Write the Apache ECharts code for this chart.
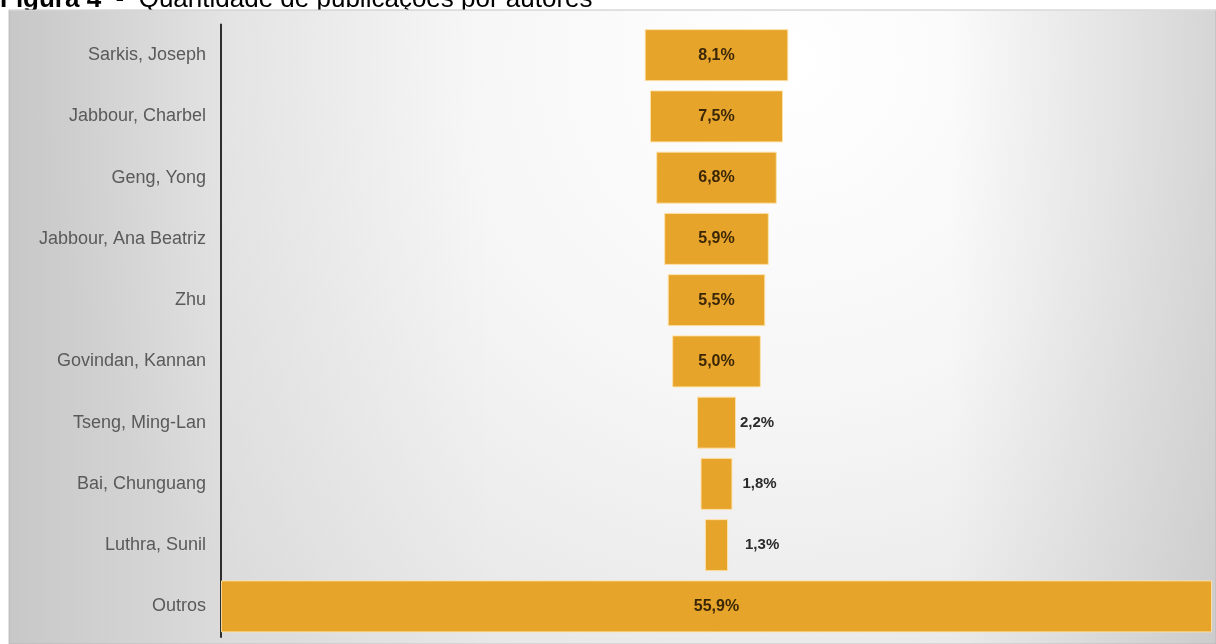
<!DOCTYPE html>
<html>
<head>
<meta charset="utf-8">
<script src="https://cdn.jsdelivr.net/npm/echarts@6/dist/echarts.min.js"></script>
<style>
  html, body { margin: 0; padding: 0; background: #ffffff; }
  #chart { width: 1216px; height: 644px; }
</style>
</head>
<body>
<div id="chart"></div>
<script>
// Authors, top to bottom
var authors = [
  'Sarkis, Joseph',
  'Jabbour, Charbel',
  'Geng, Yong',
  'Jabbour, Ana Beatriz',
  'Zhu',
  'Govindan, Kannan',
  'Tseng, Ming-Lan',
  'Bai, Chunguang',
  'Luthra, Sunil',
  'Outros'
];
// Share of publications (%)
var shares = [8.1, 7.5, 6.8, 5.9, 5.5, 5.0, 2.2, 1.8, 1.3, 55.9];
// Small bars get their label beside the bar instead of inside
var labelOutside = [false, false, false, false, false, false, true, true, true, false];
var labelGap = [0, 0, 0, 0, 0, 0, 4, 10, 17, 0];

var fullWidth = Math.max.apply(null, shares);
// invisible spacer so each bar is centred on the plot
var spacer = shares.map(function (v) { return (fullWidth - v) / 2; });

function pct(v) { return v.toFixed(1).replace('.', ',') + '%'; }

var barData = shares.map(function (v, i) {
  var item = { value: v };
  if (labelOutside[i]) {
    item.label = { position: 'right', distance: labelGap[i], color: '#2b2b2b', fontSize: 15 };
  }
  return item;
});

var chart = echarts.init(document.getElementById('chart'), null, { renderer: 'canvas' });

chart.setOption({
  animation: false,
  backgroundColor: '#ffffff',
  graphic: [
    {
      type: 'text',
      z: -20,
      left: 0,
      top: -13,
      style: {
        text: '{b|Figura 4}{n|  -  Quantidade de publicações por autores}',
        rich: {
          b: { fontFamily: 'Liberation Sans, Arial, sans-serif', fontSize: 26, fontWeight: 'bold', fill: '#000' },
          n: { fontFamily: 'Liberation Sans, Arial, sans-serif', fontSize: 26, fill: '#000' }
        }
      }
    },
    {
      type: 'rect',
      z: -10,
      shape: { x: 9, y: 10, width: 1207, height: 634 },
      style: {
        fill: new echarts.graphic.RadialGradient(790, 60, 760, [
          { offset: 0, color: '#ffffff' },
          { offset: 0.45, color: '#f6f6f6' },
          { offset: 1, color: '#e2e2e2' }
        ], true),
        stroke: '#c4c4c4',
        lineWidth: 1
      }
    },
    {
      type: 'rect',
      z: -9,
      shape: { x: 9, y: 11, width: 1207, height: 633 },
      style: {
        fill: new echarts.graphic.LinearGradient(0, 0, 1, 0, [
          { offset: 0, color: 'rgba(160,160,160,0.4)' },
          { offset: 0.18, color: 'rgba(160,160,160,0.1)' },
          { offset: 0.4, color: 'rgba(160,160,160,0)' },
          { offset: 0.78, color: 'rgba(160,160,160,0)' },
          { offset: 1, color: 'rgba(160,160,160,0.35)' }
        ])
      }
    }
  ],
  grid: { left: 221, right: 4, top: 24.5, bottom: 7, containLabel: false },
  xAxis: {
    type: 'value',
    min: 0,
    max: fullWidth,
    show: false
  },
  yAxis: {
    type: 'category',
    data: authors,
    inverse: true,
    axisLine: { show: true, lineStyle: { color: '#2e2e2e', width: 2 } },
    axisTick: { show: false },
    splitLine: { show: false },
    axisLabel: {
      color: '#5a5a5a',
      fontFamily: 'Liberation Sans, Arial, sans-serif',
      fontSize: 18,
      margin: 15
    }
  },
  series: [
    {
      type: 'bar',
      stack: 'funnel',
      data: spacer,
      barWidth: 52,
      itemStyle: { color: 'rgba(0,0,0,0)' },
      silent: true
    },
    {
      type: 'bar',
      stack: 'funnel',
      data: barData,
      barWidth: 52,
      itemStyle: {
        color: '#e7a42a',
        borderColor: 'rgba(255,226,170,0.9)',
        borderWidth: 1
      },
      label: {
        show: true,
        position: 'inside',
        formatter: function (p) { return pct(p.value); },
        color: '#3b2708',
        fontFamily: 'Liberation Sans, Arial, sans-serif',
        fontWeight: 'bold',
        fontSize: 16
      }
    }
  ]
});
</script>
</body>
</html>
